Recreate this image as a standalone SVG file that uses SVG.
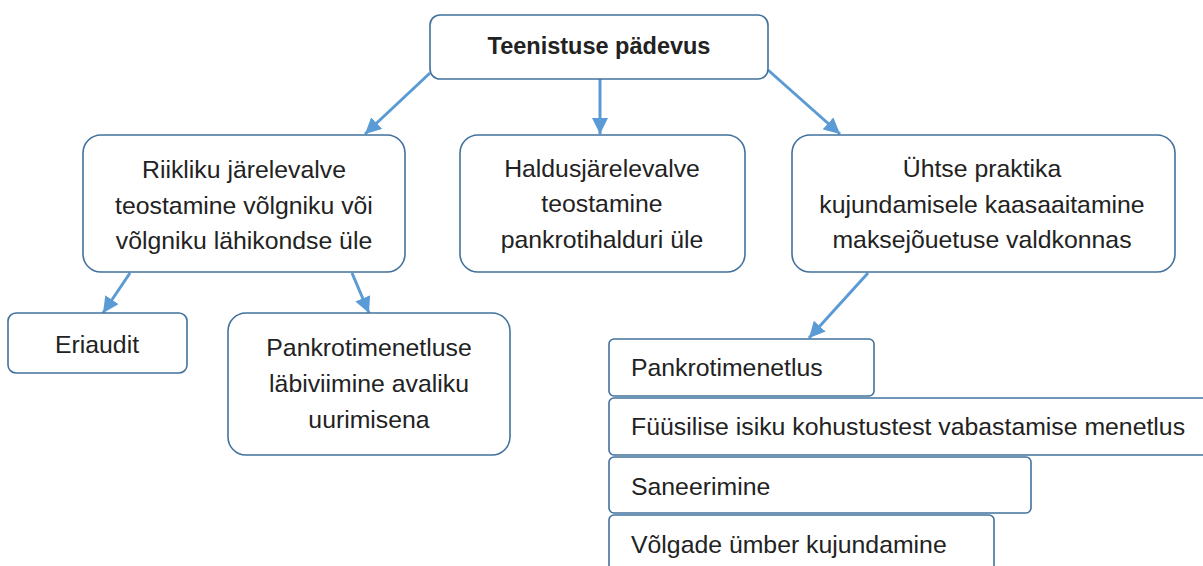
<svg xmlns="http://www.w3.org/2000/svg" width="1203" height="566" viewBox="0 0 1203 566">
<defs>
<marker id="ah" markerUnits="userSpaceOnUse" markerWidth="18" markerHeight="16" refX="16" refY="8" orient="auto">
<path d="M0,0 L16,8 L0,16 Z" fill="#5B9BD5"/>
</marker>
</defs>
<style>
.box{fill:#fff;stroke:#41719C;stroke-width:1.6}
.t{font-family:"Liberation Sans",Arial,sans-serif;font-size:24.8px;fill:#222}
.c{text-anchor:middle}
.b{font-weight:bold;font-size:23.5px}
.arr{stroke:#5B9BD5;stroke-width:3;fill:none;marker-end:url(#ah)}
</style>
<rect width="1203" height="566" fill="#fff"/>
<g id="connectors">
<line class="arr" x1="430" y1="73" x2="365" y2="134"/>
<line class="arr" x1="600" y1="79" x2="600" y2="134"/>
<line class="arr" x1="768" y1="70" x2="840" y2="134"/>
<line class="arr" x1="130" y1="273" x2="103" y2="313"/>
<line class="arr" x1="352" y1="273" x2="369" y2="313"/>
<line class="arr" x1="868" y1="273" x2="809" y2="338"/>
</g>
<g id="top">
<rect class="box" x="430" y="15" width="338" height="64" rx="10"/>
<text class="t c b" x="599" y="54">Teenistuse pädevus</text>
</g>
<g id="riiklik">
<rect class="box" x="83" y="135" width="322" height="137" rx="18"/>
<text class="t c" x="244" y="178">Riikliku järelevalve</text>
<text class="t c" x="244" y="214">teostamine võlgniku või</text>
<text class="t c" x="244" y="249">võlgniku lähikondse üle</text>
</g>
<g id="haldus">
<rect class="box" x="460" y="135" width="285" height="137" rx="18"/>
<text class="t c" x="602" y="177">Haldusjärelevalve</text>
<text class="t c" x="602" y="212">teostamine</text>
<text class="t c" x="602" y="248">pankrotihalduri üle</text>
</g>
<g id="uhtse">
<rect class="box" x="792" y="135" width="383" height="137" rx="18"/>
<text class="t c" x="982" y="177">Ühtse praktika</text>
<text class="t c" x="982" y="213">kujundamisele kaasaaitamine</text>
<text class="t c" x="982" y="248">maksejõuetuse valdkonnas</text>
</g>
<g id="eriaudit">
<rect class="box" x="8" y="313" width="179" height="60" rx="8"/>
<text class="t c" x="97" y="353">Eriaudit</text>
</g>
<g id="avalik">
<rect class="box" x="228" y="313" width="282" height="142" rx="18"/>
<text class="t c" x="369" y="356">Pankrotimenetluse</text>
<text class="t c" x="369" y="392">läbiviimine avaliku</text>
<text class="t c" x="369" y="428">uurimisena</text>
</g>
<g id="pankrot">
<rect class="box" x="609" y="339" width="265" height="57" rx="5"/>
<text class="t" x="631" y="376">Pankrotimenetlus</text>
</g>
<g id="fuusilise">
<rect class="box" x="609" y="398" width="610" height="57" rx="5"/>
<text class="t" x="631" y="435">Füüsilise isiku kohustustest vabastamise menetlus</text>
</g>
<g id="saneerimine">
<rect class="box" x="609" y="457" width="422" height="56" rx="5"/>
<text class="t" x="631" y="495">Saneerimine</text>
</g>
<g id="volgade">
<rect class="box" x="609" y="515" width="385" height="70" rx="5"/>
<text class="t" x="631" y="553">Võlgade ümber kujundamine</text>
</g>
</svg>
